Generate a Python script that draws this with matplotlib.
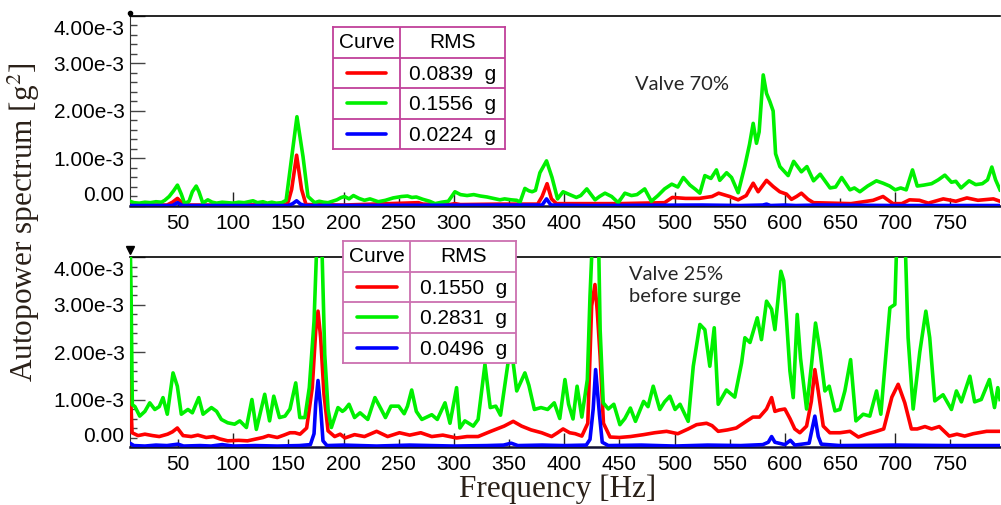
import matplotlib
matplotlib.use("Agg")
import matplotlib.pyplot as plt
import matplotlib.transforms as mtransforms
from matplotlib.ticker import AutoMinorLocator

plt.rcParams['mathtext.fontset'] = 'stix'

# ---------------- data (values in units of 1e-3 g^2) ----------------
# Valve 70 %
top_green_f = [6.5, 10, 15, 20, 25, 30, 35, 38, 42, 46, 49.5, 53, 56, 60, 63, 66.5, 69, 72.5, 77, 81,
               85, 90, 95, 100, 105, 110, 114, 118, 122, 127, 131, 135, 139, 144, 148, 152.7, 157.8,
               163.3, 167.8, 173.9, 178, 182, 186, 190, 194, 198, 201, 205, 209, 214, 219, 224, 231.5,
               238, 245, 252.7, 258, 262, 266, 272, 278, 283, 289, 295, 301, 306, 312, 318, 324, 330,
               336, 341.8, 346, 352, 357, 360, 364.4, 368, 371, 374, 378, 384, 389, 394, 399, 404,
               411, 415, 420.5, 428, 432, 437, 443, 449, 455, 461, 466, 473, 479, 485, 491, 497.5,
               503, 508, 514, 519, 523, 527.5, 533, 538, 541, 547.2, 551.7, 557.7, 563.8, 568,
               571.3, 574.3, 576.7, 580.4, 583.4, 586.4, 589.4, 591.6, 595.5, 603, 608, 615, 620,
               626, 632, 641, 646, 651.5, 659, 663, 668, 675, 683, 689, 695, 700, 705, 710, 715.7,
               720, 726, 733, 739, 745, 751, 755, 759.7, 767, 773, 779, 783.7, 787.6, 791, 795]
top_green_v = [0.1, 0.07, 0.06, 0.08, 0.07, 0.09, 0.08, 0.12, 0.2, 0.32, 0.44, 0.25, 0.05, 0.1, 0.3,
               0.42, 0.3, 0.06, 0.13, 0.08, 0.06, 0.08, 0.07, 0.06, 0.08, 0.07, 0.09, 0.11, 0.07,
               0.09, 0.06, 0.08, 0.06, 0.07, 0.12, 0.97, 1.88, 1.04, 0.2, 0.07, 0.1, 0.08, 0.07, 0.1,
               0.13, 0.18, 0.2, 0.15, 0.22, 0.16, 0.12, 0.15, 0.09, 0.12, 0.17, 0.2, 0.21, 0.18, 0.19,
               0.14, 0.1, 0.05, 0.08, 0.1, 0.3, 0.24, 0.22, 0.24, 0.21, 0.19, 0.16, 0.13, 0.15, 0.13,
               0.12, 0.08, 0.37, 0.32, 0.3, 0.33, 0.7, 0.95, 0.6, 0.15, 0.3, 0.25, 0.18, 0.22, 0.36,
               0.13, 0.2, 0.27, 0.2, 0.07, 0.27, 0.22, 0.24, 0.36, 0.1, 0.22, 0.36, 0.46, 0.4, 0.6,
               0.44, 0.35, 0.27, 0.64, 0.58, 0.76, 0.54, 0.7, 0.6, 0.28, 0.85, 1.3, 1.74, 1.32,
               1.56, 2.76, 2.37, 2.2, 2.0, 1.1, 0.83, 0.64, 0.94, 0.72, 0.83, 0.53, 0.67, 0.38, 0.4,
               0.6, 0.34, 0.38, 0.3, 0.42, 0.53, 0.48, 0.42, 0.34, 0.38, 0.34, 0.76, 0.42, 0.44,
               0.47, 0.55, 0.65, 0.5, 0.52, 0.38, 0.53, 0.45, 0.47, 0.55, 0.82, 0.55, 0.34]

top_red_f = [6.5, 40, 45, 49.5, 54, 60, 100, 148, 150, 153, 157.5, 162, 166, 200, 268, 272, 296, 301,
             306, 340, 376, 380, 384.5, 388.5, 393, 450, 491, 498, 510, 522.6, 534, 540, 550, 557.7,
             565, 571.3, 575.8, 583.4, 589.4, 595.4, 601.5, 606, 610.6, 615, 621, 626, 660, 680, 689,
             698, 706, 713, 722, 730, 743.6, 755, 765, 775, 789, 795]
top_red_v = [0.02, 0.02, 0.08, 0.16, 0.06, 0.02, 0.02, 0.03, 0.1, 0.35, 1.07, 0.35, 0.03, 0.02, 0.07,
             0.04, 0.03, 0.05, 0.03, 0.04, 0.04, 0.2, 0.47, 0.15, 0.05, 0.05, 0.07, 0.18, 0.16, 0.16,
             0.2, 0.27, 0.2, 0.13, 0.22, 0.48, 0.3, 0.54, 0.41, 0.3, 0.25, 0.14, 0.2, 0.27, 0.14,
             0.07, 0.05, 0.12, 0.2, 0.05, 0.05, 0.13, 0.12, 0.06, 0.15, 0.1, 0.17, 0.12, 0.15, 0.1]

top_blue_f = [6.5, 45, 49.5, 54, 150, 154, 157.5, 161, 165, 380, 384, 388, 420, 525, 560, 580, 583.4,
              587, 600, 610, 630, 700, 795]
top_blue_v = [0.01, 0.01, 0.07, 0.01, 0.01, 0.05, 0.11, 0.04, 0.01, 0.02, 0.15, 0.02, 0.01, 0.02,
              0.01, 0.02, 0.04, 0.01, 0.02, 0.01, 0.02, 0.01, 0.01]

# Valve 25 %, before surge
bot_green_f = [6.5, 7.5, 8.6, 11, 15.3, 20, 24.4, 29, 33, 36.4, 40.3, 45.5, 49.4, 53, 59, 63, 68.8,
               72.7, 80.3, 85, 89.3, 95, 101.3, 106, 112, 117, 121, 128.6, 133, 136.8, 142, 147,
               151.5, 156.7, 160.4, 165, 169, 173.3, 176.3, 180, 183, 186, 189, 195, 199, 201.3, 205,
               210, 215, 222, 228.5, 234, 238, 243, 250, 255, 258, 261.8, 266, 271, 280, 285, 292,
               296.5, 302.5, 305.5, 310, 317.6, 322, 328.2, 333, 338, 342.3, 349.3, 352, 357, 364.4,
               368, 373, 379, 385, 391, 396, 400.7, 404, 408, 411.7, 416, 421, 423.4, 426, 431,
               432.6, 435.4, 440, 445, 450.5, 455, 460, 464.6, 472, 476, 480.7, 486.7, 491, 495.8,
               500.5, 505, 512.4, 517, 523, 527.5, 532, 536, 539.6, 547, 554.6, 560.8, 563.8, 568.4,
               575, 578.8, 583.4, 588, 591, 596.4, 599, 601.6, 604.6, 607.6, 611.2, 614.2, 619.7,
               624.2, 627.8, 631.8, 636.3, 640.2, 645.4, 649.9, 654.4, 659.6, 664.4, 671, 677,
               683.1, 687, 695.2, 699.7, 701.8, 708.7, 711.7, 716.3, 722.3, 727.8, 731.3, 735.9,
               743.4, 751, 755.5, 760, 767.7, 772, 778, 785.4, 790, 793, 795]
bot_green_v = [4.6, 3.2, 0.89, 0.85, 0.65, 0.75, 0.93, 0.79, 0.85, 1.04, 0.69, 1.56, 1.28, 0.69,
               0.79, 0.72, 1.04, 0.69, 0.83, 0.75, 0.58, 0.51, 0.48, 0.55, 0.41, 1.0, 0.37, 1.11,
               0.55, 1.07, 0.62, 0.65, 0.8, 1.35, 0.62, 0.62, 1.25, 2.65, 4.6, 4.6, 1.95, 0.79, 0.41,
               0.83, 0.75, 0.79, 0.9, 0.62, 0.72, 0.58, 1.04, 0.8, 0.62, 0.86, 0.86, 0.7, 0.86, 1.2,
               0.75, 0.58, 0.68, 0.58, 0.93, 0.5, 1.25, 0.4, 0.55, 0.44, 0.58, 1.74, 0.83, 0.86,
               0.67, 1.8, 2.1, 1.18, 1.56, 1.3, 0.79, 0.83, 0.79, 0.93, 0.6, 1.42, 0.9, 0.59, 1.28,
               0.63, 1.42, 3.17, 4.6, 4.6, 2.47, 0.93, 0.8, 0.9, 0.47, 0.6, 0.82, 0.54, 0.96, 0.85,
               1.28, 0.79, 0.95, 1.07, 0.79, 0.9, 0.54, 1.7, 2.58, 2.47, 1.7, 2.51, 0.9, 1.2, 1.05,
               1.77, 2.3, 2.2, 2.72, 2.26, 3.07, 2.9, 2.47, 3.7, 3.5, 2.65, 1.6, 1.04, 2.79, 1.87,
               0.8, 1.74, 2.61, 2.03, 1.18, 1.28, 0.76, 0.79, 1.18, 1.84, 0.55, 0.69, 0.65, 1.18,
               0.69, 2.93, 3.0, 4.6, 4.6, 2.3, 0.8, 2.0, 2.86, 2.3, 0.97, 1.1, 0.79, 1.18, 0.95,
               1.49, 0.95, 1.0, 1.42, 0.83, 1.25, 1.0]

bot_red_f = [6.5, 8.4, 13.8, 20, 27, 33, 40.6, 45, 49.4, 54.6, 62, 68, 75.6, 82, 88, 95, 105, 113,
             121, 127, 132, 140, 146, 151.5, 156, 160.6, 166.6, 171.7, 174.8, 176.9, 179.3, 182.3,
             186, 192, 197, 201.3, 210, 219, 230, 240, 250.7, 260, 270, 280, 290, 302.5, 312, 322,
             333.5, 345.6, 353.8, 361.4, 370, 379.6, 388.6, 394, 399, 405, 410, 416, 421.4, 424.9,
             427.9, 430, 432.6, 435.6, 441.6, 450, 460, 471.9, 482, 492.8, 503, 512.4, 520, 529,
             534, 539.6, 548, 556, 565, 571, 577, 583.4, 588, 591, 595, 600, 604.6, 609, 613.6,
             619.7, 624, 627.2, 630.3, 634.8, 640.8, 650, 659, 666.6, 674, 683, 689.6, 697, 702.7,
             708.7, 714.7, 720, 727, 733, 740, 749, 756, 763, 770.8, 782.9, 795]
bot_red_v = [1.39, 0.3, 0.24, 0.27, 0.24, 0.22, 0.27, 0.32, 0.4, 0.24, 0.22, 0.25, 0.2, 0.22, 0.17,
             0.13, 0.14, 0.13, 0.17, 0.2, 0.24, 0.2, 0.25, 0.3, 0.3, 0.27, 0.4, 1.25, 2.44, 2.86,
             2.3, 1.11, 0.34, 0.22, 0.27, 0.19, 0.26, 0.22, 0.33, 0.22, 0.3, 0.25, 0.3, 0.22, 0.25,
             0.19, 0.22, 0.22, 0.33, 0.44, 0.54, 0.44, 0.36, 0.3, 0.22, 0.3, 0.38, 0.3, 0.28, 0.23,
             0.5, 2.97, 3.42, 2.86, 1.9, 0.5, 0.21, 0.2, 0.22, 0.26, 0.3, 0.33, 0.28, 0.38, 0.47,
             0.5, 0.45, 0.33, 0.36, 0.4, 0.54, 0.63, 0.63, 0.8, 1.04, 0.75, 0.78, 0.8, 0.6, 0.38,
             0.3, 0.44, 0.96, 1.63, 1.17, 0.44, 0.3, 0.3, 0.33, 0.21, 0.27, 0.33, 0.38, 1.05, 1.32,
             0.93, 0.38, 0.38, 0.43, 0.38, 0.43, 0.23, 0.27, 0.23, 0.28, 0.33, 0.33]

bot_blue_f = [6.5, 10, 20, 30, 40, 50, 55, 70, 80, 90, 100, 120, 140, 160, 170, 173.3, 174.8, 176.9,
              179.3, 181.4, 185, 200, 230, 260, 300, 330, 345, 352, 358, 380, 400, 420, 423.4, 426.3,
              428.5, 432, 434.5, 440, 470, 500, 530, 560, 580, 585, 588, 591, 600, 605, 609, 622,
              624, 627.2, 630.3, 633, 650, 700, 750, 795]
bot_blue_v = [0.08, 0.03, 0.02, 0.04, 0.03, 0.06, 0.02, 0.03, 0.02, 0.05, 0.02, 0.03, 0.02, 0.03,
              0.05, 0.28, 0.9, 1.4, 0.83, 0.13, 0.03, 0.04, 0.02, 0.04, 0.02, 0.03, 0.04, 0.08, 0.03,
              0.04, 0.03, 0.04, 0.16, 0.8, 1.63, 0.68, 0.1, 0.03, 0.04, 0.02, 0.04, 0.03, 0.05, 0.1,
              0.22, 0.1, 0.05, 0.14, 0.04, 0.08, 0.3, 0.65, 0.22, 0.06, 0.03, 0.04, 0.03, 0.03]

top_rms = [0.0839, 0.1556, 0.0224]
bot_rms = [0.1550, 0.2831, 0.0496]
curve_colors = ['#ff0000', '#00f000', '#0000ff']

ytick_vals = [0, 1e-3, 2e-3, 3e-3, 4e-3]
ytick_labels = ['0.00', '1.00e-3', '2.00e-3', '3.00e-3', '4.00e-3']
xtick_major = [100, 200, 300, 400, 500, 600, 700]
xtick_minor = [50, 150, 250, 350, 450, 550, 650, 750]

W, H = 1001, 505
fig = plt.figure(figsize=(W / 100, H / 100), dpi=100)
tick_font = 'Liberation Sans'


def px_rect(x0, y0, x1, y1):
    return [x0 / W, 1 - y1 / H, (x1 - x0) / W, (y1 - y0) / H]


def style_axes(ax, marker, mark_off):
    ax.set_xlim(6.5, 795)
    ax.set_ylim(0, 4e-3)
    ax.spines['right'].set_visible(False)
    ax.spines['top'].set_color('black')
    ax.spines['top'].set_linewidth(1.2)
    ax.spines['left'].set_color('#333333')
    ax.spines['bottom'].set_color('#101030')
    ax.spines['bottom'].set_linewidth(1.8)
    ax.set_yticks(ytick_vals)
    ax.set_yticklabels(ytick_labels)
    ax.yaxis.set_minor_locator(AutoMinorLocator(5))
    ax.set_xticks(xtick_major)
    ax.set_xticklabels([str(v) for v in xtick_major])
    ax.set_xticks(xtick_minor, [str(v) for v in xtick_minor], minor=True)
    ax.tick_params(axis='y', which='major', direction='in', length=11, width=1,
                   color='#444444', pad=4, labelsize=15)
    ax.tick_params(axis='y', which='minor', direction='in', length=5, width=1, color='#444444')
    ax.tick_params(axis='x', which='major', direction='in', length=10, width=1,
                   color='#222222', pad=6, labelsize=15)
    ax.tick_params(axis='x', which='minor', direction='in', length=6, width=1,
                   color='#222222', pad=6, labelsize=15)
    for lab in ax.get_xticklabels() + ax.get_xticklabels(minor=True) + ax.get_yticklabels():
        lab.set_fontfamily(tick_font)
    # extreme labels sit inside the frame, as in the original software
    labs = ax.get_yticklabels()
    labs[0].set_transform(labs[0].get_transform() +
                          mtransforms.ScaledTranslation(0, 12 / 100, fig.dpi_scale_trans))
    labs[-1].set_transform(labs[-1].get_transform() +
                           mtransforms.ScaledTranslation(0, -12 / 100, fig.dpi_scale_trans))
    off = mtransforms.ScaledTranslation(0, mark_off / 100, fig.dpi_scale_trans)
    ax.plot([0], [1], marker=marker, color='black', ms=6 if marker == 'v' else 3,
            transform=ax.transAxes + off, clip_on=False)


def draw_table(rect, rms, edge):
    t = fig.add_axes(rect, zorder=5)
    t.set_xlim(0, 1)
    t.set_ylim(4, 0)
    t.set_xticks([])
    t.set_yticks([])
    t.set_facecolor('white')
    for s in t.spines.values():
        s.set_color(edge)
        s.set_linewidth(1.3)
    t.axvline(0.39, color=edge, lw=1.3)
    for r in (1, 2, 3):
        t.axhline(r, color=edge, lw=1.3)
    t.text(0.195, 0.5, 'Curve', ha='center', va='center', fontsize=15, family=tick_font)
    t.text(0.695, 0.5, 'RMS', ha='center', va='center', fontsize=15, family=tick_font)
    for i, (val, col) in enumerate(zip(rms, curve_colors)):
        t.plot([0.08, 0.31], [i + 1.5, i + 1.5], color=col, lw=2.6, solid_capstyle='round')
        t.text(0.695, i + 1.55, f'{val:.4f}  g', ha='center', va='center', fontsize=15,
               family=tick_font)


ax1 = fig.add_axes(px_rect(130, 16, 1000, 206))
ax2 = fig.add_axes(px_rect(130, 257, 1000, 447))

for ax, data in ((ax1, [(top_red_f, top_red_v), (top_green_f, top_green_v), (top_blue_f, top_blue_v)]),
                 (ax2, [(bot_red_f, bot_red_v), (bot_green_f, bot_green_v), (bot_blue_f, bot_blue_v)])):
    for k in [1, 0, 2]:  # green below red below blue
        f, v = data[k]
        ax.plot(f, [y * 1e-3 for y in v], color=curve_colors[k], lw=2.6, zorder=3 + k)

style_axes(ax1, 'o', 3)
style_axes(ax2, 'v', 7)

ax1.text(464, 2.55e-3, 'Valve 70%', fontsize=14.5, family='Lato', color='#262626', va='center')
ax2.text(458.7, 3.82e-3, 'Valve 25%\nbefore surge', fontsize=14.5, family='Lato',
         color='#262626', va='top', linespacing=1.4)

draw_table(px_rect(333, 27, 505, 149), top_rms, '#c0409a')
draw_table(px_rect(343, 241, 516, 363), bot_rms, '#cc6fb0')

fig.text(24 / W, 1 - 222 / H, 'Autopower spectrum [g$^2$]', rotation=90, ha='center', va='center',
         fontsize=22.5, family='Liberation Serif', color='#2a2018')
fig.text(558 / W, 1 - 489 / H, 'Frequency [Hz]', ha='center', va='center',
         fontsize=22.5, family='Liberation Serif', color='#2a2018')

fig.savefig('out.png', dpi=100)
